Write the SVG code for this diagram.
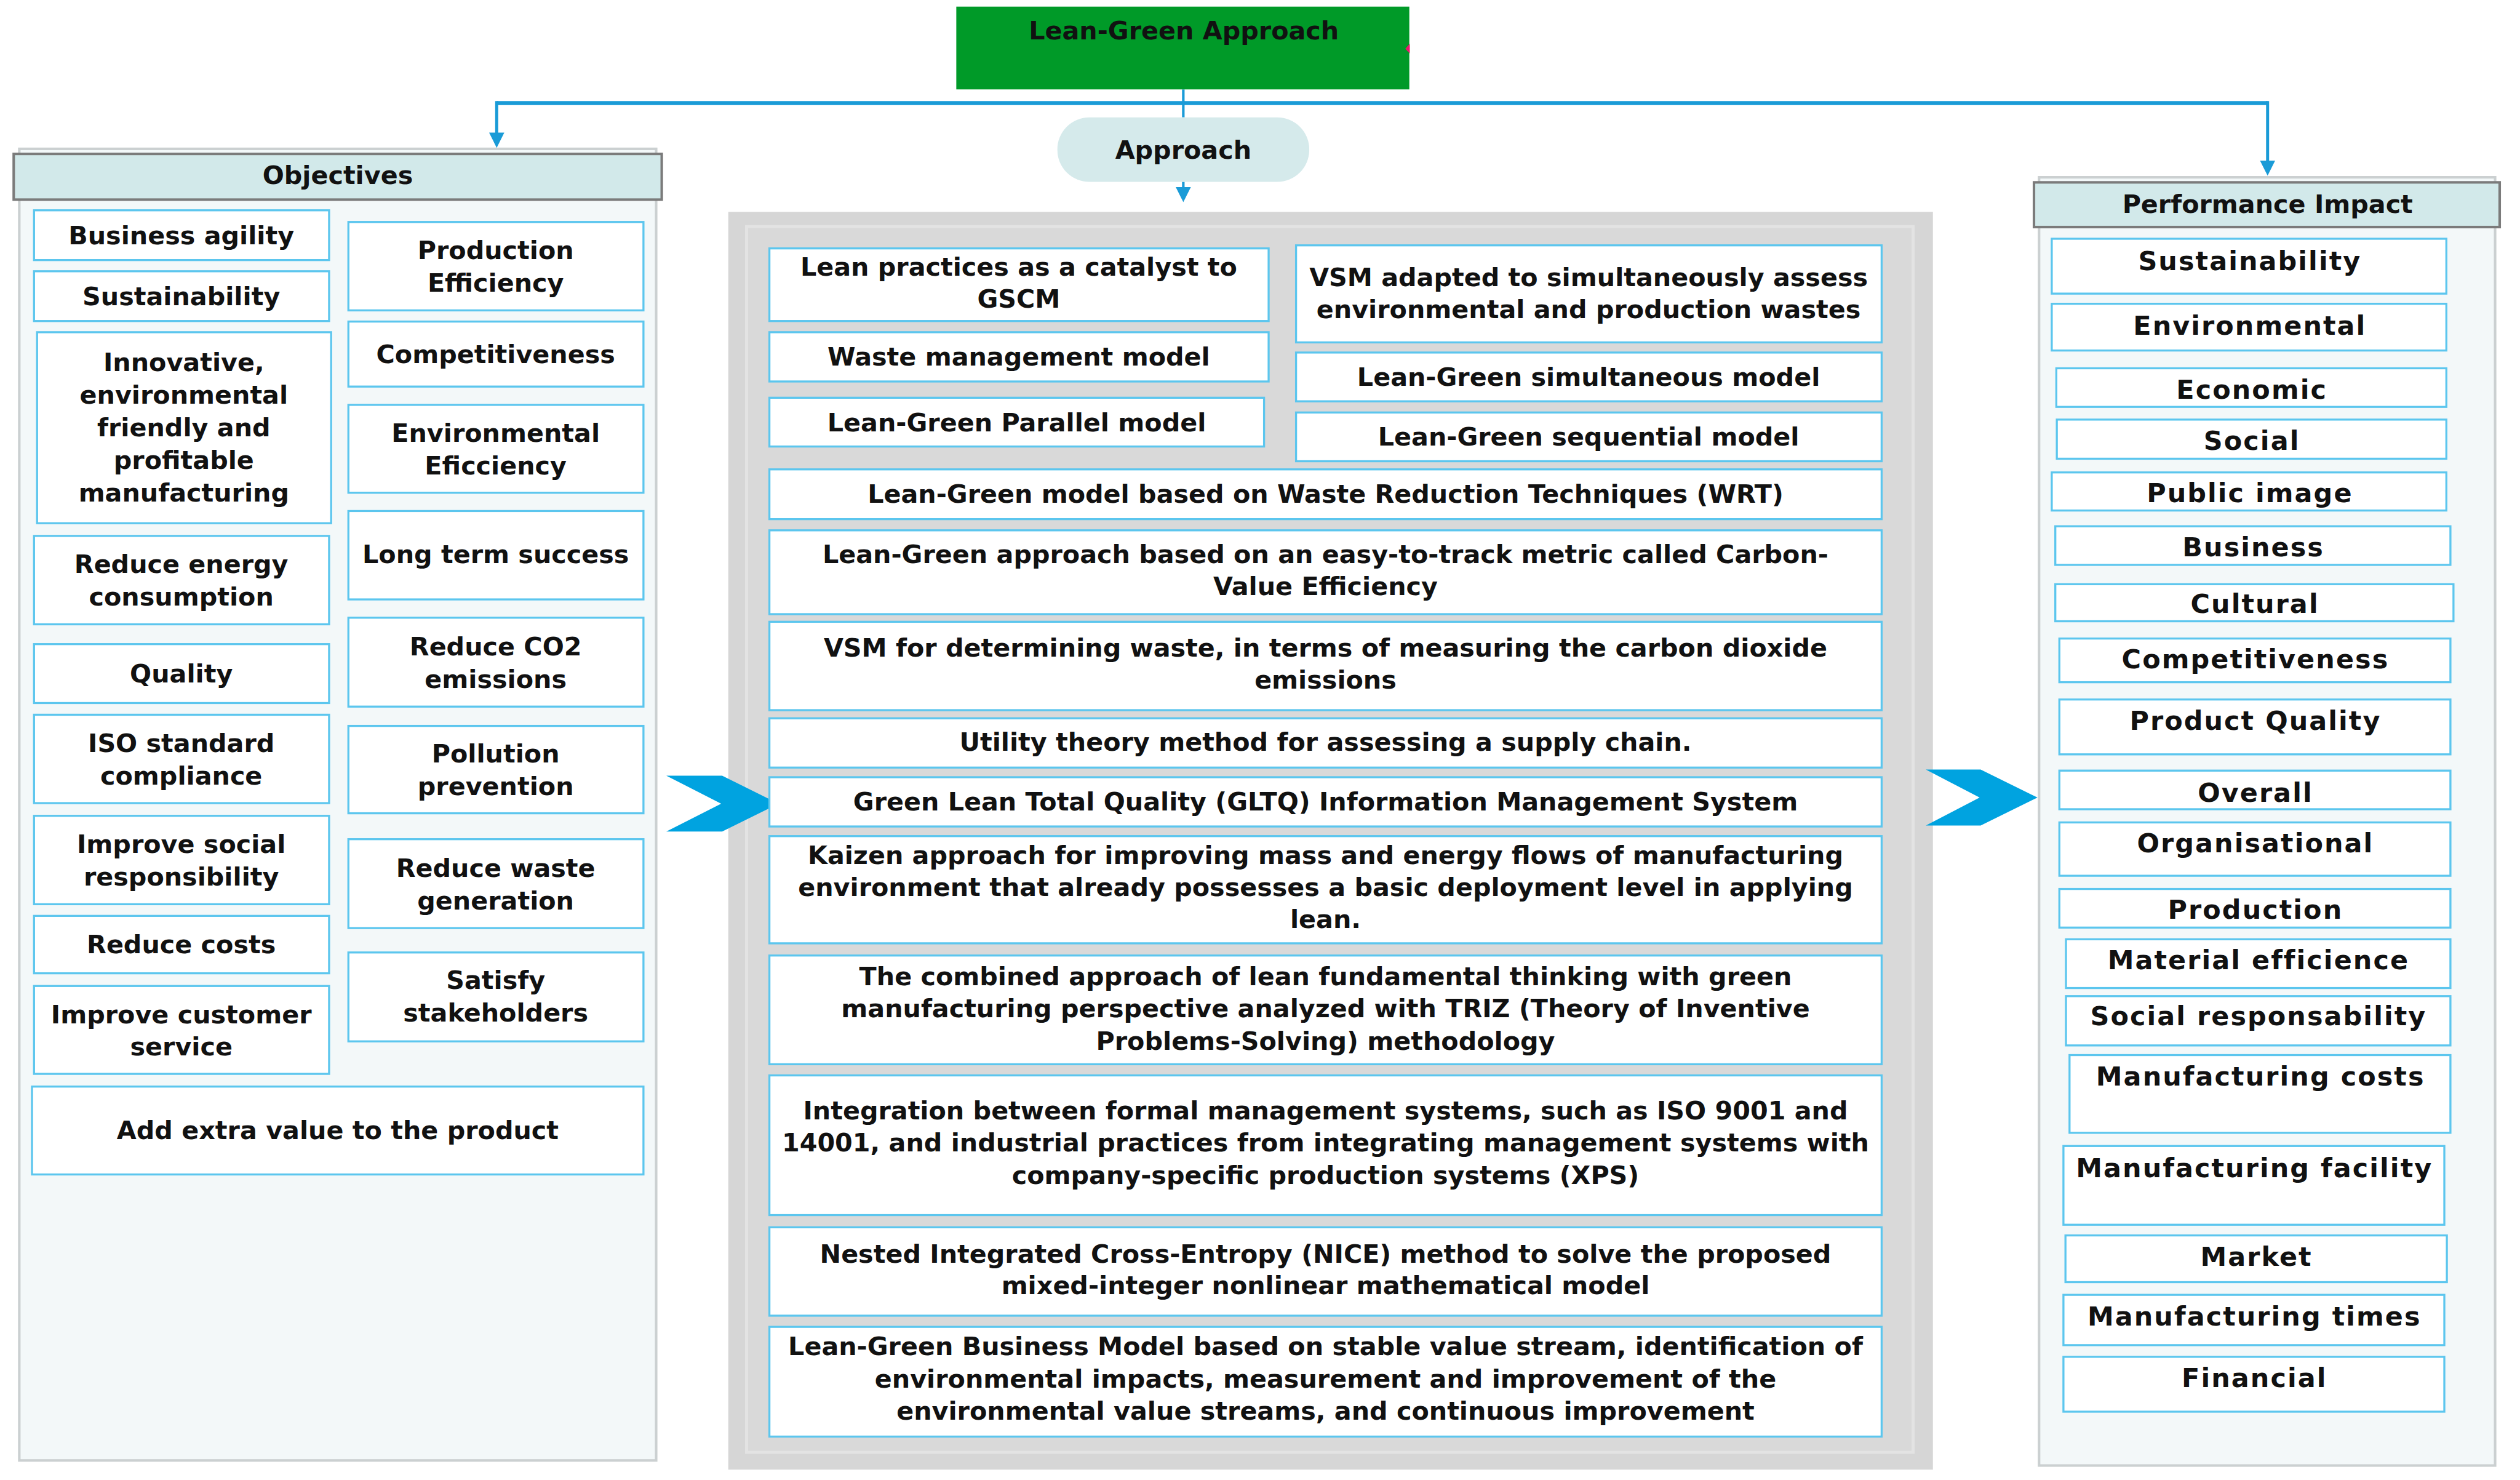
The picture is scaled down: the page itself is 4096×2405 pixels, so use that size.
<svg xmlns="http://www.w3.org/2000/svg" width="4096" height="2405" viewBox="0 0 4096 2405">
<defs>
<style>
.bg{fill:#ffffff}
.box{fill:#ffffff;stroke:#5cc6ee;stroke-width:4}
.panel{fill:#f3f8f9;stroke:#cbd0d1;stroke-width:5}
.head{fill:#d2e9ea;stroke:#7b7b7b;stroke-width:5}
.t{font-family:"DejaVu Sans","Liberation Sans",sans-serif;font-weight:bold;font-size:50px;fill:#111111;text-anchor:middle}
.tm{font-size:50px}
.tr{font-size:52px;letter-spacing:2.5px}
.conn{stroke:#1a9bd7;fill:none}
.chev{fill:#00a3e0}
</style>
<marker id="ah" viewBox="0 0 30 30" refX="8" refY="15" markerWidth="30" markerHeight="30" markerUnits="userSpaceOnUse" orient="auto">
<path d="M0,0 L30,15 L0,30 z" fill="#1a9bd7"/>
</marker>
</defs>
<rect class="bg" x="0" y="0" width="4096" height="2405"/>
<g transform="scale(0.825474)">

<!-- Panels -->
<g id="objectives-panel">
<rect class="panel" x="38" y="293" width="1254" height="2582"/>
<rect class="head" x="27" y="303" width="1276" height="90"/>
<text class="t" x="665" y="362">Objectives</text>
</g>
<g id="approach-panel">
<rect x="1434" y="417" width="2372" height="2476" fill="#d6d6d6"/>
<rect x="1470" y="446" width="2297" height="2413" fill="#d9d9d9" stroke="#e3e3e3" stroke-width="6"/>
</g>
<g id="performance-panel">
<rect class="panel" x="4015" y="349" width="898" height="2536"/>
<rect class="head" x="4005" y="359" width="917" height="88"/>
<text class="t" x="4465" y="419">Performance Impact</text>
</g>

<!-- Connectors -->
<g id="connectors">
<line class="conn" x1="978" y1="203" x2="4465" y2="203" stroke-width="8"/>
<line class="conn" x1="978" y1="199" x2="978" y2="269" stroke-width="6" marker-end="url(#ah)"/>
<line class="conn" x1="4465" y1="199" x2="4465" y2="324" stroke-width="6" marker-end="url(#ah)"/>
<line class="conn" x1="2330" y1="176" x2="2330" y2="231" stroke-width="5"/>
<line class="conn" x1="2330" y1="358" x2="2330" y2="376" stroke-width="5" marker-end="url(#ah)"/>
<polygon class="chev" points="1312,1527 1422,1527 1533,1582 1422,1637 1312,1637 1420,1582"/>
<polygon class="chev" points="3792,1515 3900,1515 4012,1570 3900,1625 3792,1625 3898,1570"/>
</g>

<!-- Top nodes -->
<g id="lean-green-approach">
<rect x="1883" y="13" width="892" height="163" fill="#009a28"/>
<polygon points="2776,86 2767,96 2776,105" fill="#e8186e"/>
<text class="t" x="2331" y="78">Lean-Green Approach</text>
</g>
<g id="approach">
<rect x="2082" y="231" width="496" height="127" rx="63" ry="63" fill="#d5eaeb"/>
<text class="t" x="2330" y="313">Approach</text>
</g>

<!-- Objectives -->
<g id="obj-business-agility"><rect class="box" x="67" y="414" width="581" height="98"/><text class="t" x="357" y="481">Business agility</text></g>
<g id="obj-sustainability"><rect class="box" x="67" y="534" width="581" height="98"/><text class="t" x="357" y="601">Sustainability</text></g>
<g id="obj-innovative"><rect class="box" x="73" y="654" width="579" height="376"/><text class="t" x="362"><tspan x="362" y="731">Innovative,</tspan><tspan x="362" y="795">environmental</tspan><tspan x="362" y="859">friendly and</tspan><tspan x="362" y="923">profitable</tspan><tspan x="362" y="987">manufacturing</tspan></text></g>
<g id="obj-reduce-energy"><rect class="box" x="67" y="1055" width="581" height="174"/><text class="t"><tspan x="357" y="1128">Reduce energy</tspan><tspan x="357" y="1192">consumption</tspan></text></g>
<g id="obj-quality"><rect class="box" x="67" y="1268" width="581" height="116"/><text class="t" x="357" y="1344">Quality</text></g>
<g id="obj-iso"><rect class="box" x="67" y="1407" width="581" height="174"/><text class="t"><tspan x="357" y="1480">ISO standard</tspan><tspan x="357" y="1544">compliance</tspan></text></g>
<g id="obj-social"><rect class="box" x="67" y="1606" width="581" height="174"/><text class="t"><tspan x="357" y="1679">Improve social</tspan><tspan x="357" y="1743">responsibility</tspan></text></g>
<g id="obj-reduce-costs"><rect class="box" x="67" y="1803" width="581" height="113"/><text class="t" x="357" y="1876">Reduce costs</text></g>
<g id="obj-customer"><rect class="box" x="67" y="1941" width="581" height="173"/><text class="t"><tspan x="357" y="2014">Improve customer</tspan><tspan x="357" y="2078">service</tspan></text></g>
<g id="obj-extra-value"><rect class="box" x="63" y="2139" width="1204" height="173"/><text class="t" x="665" y="2242">Add extra value to the product</text></g>
<g id="obj-production-efficiency"><rect class="box" x="686" y="437" width="581" height="174"/><text class="t"><tspan x="976" y="510">Production</tspan><tspan x="976" y="574">Efficiency</tspan></text></g>
<g id="obj-competitiveness"><rect class="box" x="686" y="633" width="581" height="128"/><text class="t" x="976" y="715">Competitiveness</text></g>
<g id="obj-env-efficiency"><rect class="box" x="686" y="797" width="581" height="173"/><text class="t"><tspan x="976" y="870">Environmental</tspan><tspan x="976" y="934">Eficciency</tspan></text></g>
<g id="obj-long-term"><rect class="box" x="686" y="1006" width="581" height="174"/><text class="t" x="976" y="1108">Long term success</text></g>
<g id="obj-co2"><rect class="box" x="686" y="1216" width="581" height="175"/><text class="t"><tspan x="976" y="1290">Reduce CO2</tspan><tspan x="976" y="1354">emissions</tspan></text></g>
<g id="obj-pollution"><rect class="box" x="686" y="1429" width="581" height="172"/><text class="t"><tspan x="976" y="1501">Pollution</tspan><tspan x="976" y="1565">prevention</tspan></text></g>
<g id="obj-waste"><rect class="box" x="686" y="1652" width="581" height="175"/><text class="t"><tspan x="976" y="1726">Reduce waste</tspan><tspan x="976" y="1790">generation</tspan></text></g>
<g id="obj-stakeholders"><rect class="box" x="686" y="1875" width="581" height="175"/><text class="t"><tspan x="976" y="1947">Satisfy</tspan><tspan x="976" y="2011">stakeholders</tspan></text></g>

<!-- Approaches -->
<g id="ap-gscm"><rect class="box" x="1515" y="489" width="983" height="143"/><text class="t tm"><tspan x="2006" y="543">Lean practices as a catalyst to</tspan><tspan x="2006" y="606">GSCM</tspan></text></g>
<g id="ap-waste-model"><rect class="box" x="1515" y="654" width="983" height="97"/><text class="t tm" x="2006" y="720">Waste management model</text></g>
<g id="ap-parallel"><rect class="box" x="1515" y="783" width="974" height="96"/><text class="t tm" x="2002" y="849">Lean-Green Parallel model</text></g>
<g id="ap-vsm-adapted"><rect class="box" x="2552" y="483" width="1153" height="191"/><text class="t tm"><tspan x="3128" y="563">VSM adapted to simultaneously assess</tspan><tspan x="3128" y="626">environmental and production wastes</tspan></text></g>
<g id="ap-simultaneous"><rect class="box" x="2552" y="694" width="1153" height="96"/><text class="t tm" x="3128" y="759">Lean-Green simultaneous model</text></g>
<g id="ap-sequential"><rect class="box" x="2552" y="812" width="1153" height="96"/><text class="t tm" x="3128" y="877">Lean-Green sequential model</text></g>
<g id="ap-wrt"><rect class="box" x="1515" y="924" width="2190" height="98"/><text class="t tm" x="2610" y="990">Lean-Green model based on Waste Reduction Techniques (WRT)</text></g>
<g id="ap-carbon"><rect class="box" x="1515" y="1044" width="2190" height="165"/><text class="t tm"><tspan x="2610" y="1109">Lean-Green approach based on an easy-to-track metric called Carbon-</tspan><tspan x="2610" y="1172">Value Efficiency</tspan></text></g>
<g id="ap-vsm-co2"><rect class="box" x="1515" y="1224" width="2190" height="174"/><text class="t tm"><tspan x="2610" y="1293">VSM for determining waste, in terms of measuring the carbon dioxide</tspan><tspan x="2610" y="1356">emissions</tspan></text></g>
<g id="ap-utility"><rect class="box" x="1515" y="1414" width="2190" height="97"/><text class="t tm" x="2610" y="1478">Utility theory method for assessing a supply chain.</text></g>
<g id="ap-gltq"><rect class="box" x="1515" y="1530" width="2190" height="97"/><text class="t tm" x="2610" y="1595">Green Lean Total Quality (GLTQ) Information Management System</text></g>
<g id="ap-kaizen"><rect class="box" x="1515" y="1646" width="2190" height="211"/><text class="t tm"><tspan x="2610" y="1701">Kaizen approach for improving mass and energy flows of manufacturing</tspan><tspan x="2610" y="1764">environment that already possesses a basic deployment level in applying</tspan><tspan x="2610" y="1827">lean.</tspan></text></g>
<g id="ap-triz"><rect class="box" x="1515" y="1881" width="2190" height="214"/><text class="t tm"><tspan x="2610" y="1939">The combined approach of lean fundamental thinking with green</tspan><tspan x="2610" y="2003">manufacturing perspective analyzed with TRIZ (Theory of Inventive</tspan><tspan x="2610" y="2067">Problems-Solving) methodology</tspan></text></g>
<g id="ap-xps"><rect class="box" x="1515" y="2117" width="2190" height="275"/><text class="t tm"><tspan x="2610" y="2203">Integration between formal management systems, such as ISO 9001 and</tspan><tspan x="2610" y="2267">14001, and industrial practices from integrating management systems with</tspan><tspan x="2610" y="2331">company-specific production systems (XPS)</tspan></text></g>
<g id="ap-nice"><rect class="box" x="1515" y="2416" width="2190" height="174"/><text class="t tm"><tspan x="2610" y="2486">Nested Integrated Cross-Entropy (NICE) method to solve the proposed</tspan><tspan x="2610" y="2548">mixed-integer nonlinear mathematical model</tspan></text></g>
<g id="ap-business-model"><rect class="box" x="1515" y="2612" width="2190" height="216"/><text class="t tm"><tspan x="2610" y="2668">Lean-Green Business Model based on stable value stream, identification of</tspan><tspan x="2610" y="2732">environmental impacts, measurement and improvement of the</tspan><tspan x="2610" y="2795">environmental value streams, and continuous improvement</tspan></text></g>

<!-- Performance impact -->
<g id="pi-sustainability"><rect class="box" x="4040" y="470" width="777" height="108"/><text class="t tr" x="4430" y="532">Sustainability</text></g>
<g id="pi-environmental"><rect class="box" x="4040" y="598" width="777" height="92"/><text class="t tr" x="4430" y="659">Environmental</text></g>
<g id="pi-economic"><rect class="box" x="4049" y="725" width="768" height="76"/><text class="t tr" x="4434" y="785">Economic</text></g>
<g id="pi-social"><rect class="box" x="4050" y="826" width="767" height="77"/><text class="t tr" x="4434" y="885">Social</text></g>
<g id="pi-public-image"><rect class="box" x="4040" y="930" width="777" height="75"/><text class="t tr" x="4430" y="989">Public image</text></g>
<g id="pi-business"><rect class="box" x="4047" y="1036" width="778" height="76"/><text class="t tr" x="4437" y="1095">Business</text></g>
<g id="pi-cultural"><rect class="box" x="4047" y="1150" width="784" height="73"/><text class="t tr" x="4440" y="1207">Cultural</text></g>
<g id="pi-competitiveness"><rect class="box" x="4055" y="1257" width="770" height="86"/><text class="t tr" x="4441" y="1316">Competitiveness</text></g>
<g id="pi-product-quality"><rect class="box" x="4055" y="1377" width="770" height="108"/><text class="t tr" x="4441" y="1437">Product Quality</text></g>
<g id="pi-overall"><rect class="box" x="4055" y="1517" width="770" height="76"/><text class="t tr" x="4441" y="1578">Overall</text></g>
<g id="pi-organisational"><rect class="box" x="4055" y="1619" width="770" height="105"/><text class="t tr" x="4441" y="1678">Organisational</text></g>
<g id="pi-production"><rect class="box" x="4055" y="1750" width="770" height="76"/><text class="t tr" x="4441" y="1809">Production</text></g>
<g id="pi-material"><rect class="box" x="4068" y="1849" width="757" height="96"/><text class="t tr" x="4447" y="1908">Material efficience</text></g>
<g id="pi-social-resp"><rect class="box" x="4068" y="1961" width="757" height="97"/><text class="t tr" x="4447" y="2018">Social responsability</text></g>
<g id="pi-mfg-costs"><rect class="box" x="4075" y="2077" width="750" height="153"/><text class="t tr" x="4451" y="2137">Manufacturing costs</text></g>
<g id="pi-mfg-facility"><rect class="box" x="4063" y="2256" width="750" height="155"/><text class="t tr" x="4439" y="2317">Manufacturing facility</text></g>
<g id="pi-market"><rect class="box" x="4067" y="2432" width="751" height="92"/><text class="t tr" x="4443" y="2492">Market</text></g>
<g id="pi-mfg-times"><rect class="box" x="4063" y="2549" width="750" height="99"/><text class="t tr" x="4439" y="2609">Manufacturing times</text></g>
<g id="pi-financial"><rect class="box" x="4063" y="2671" width="750" height="108"/><text class="t tr" x="4439" y="2731">Financial</text></g>

</g>
</svg>
